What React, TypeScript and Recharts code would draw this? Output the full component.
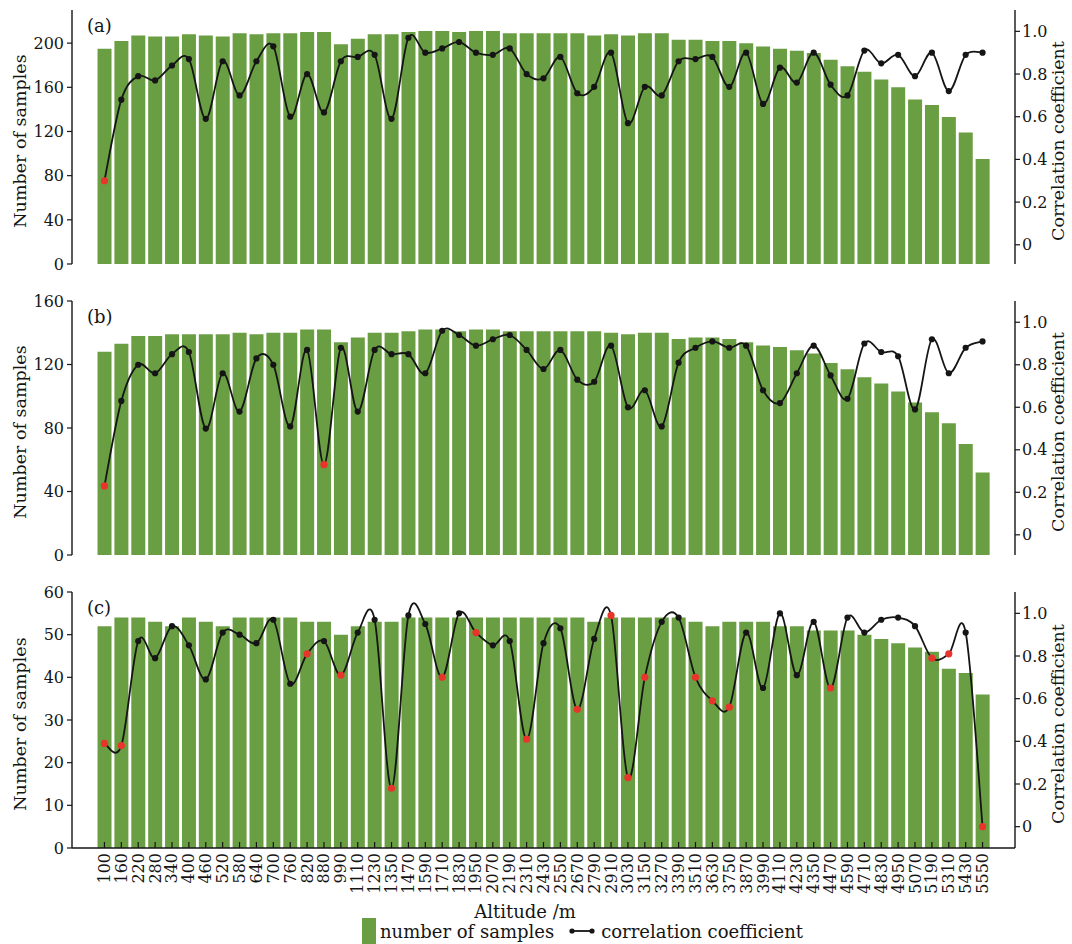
import { ComposedChart, Bar, Line, XAxis, YAxis, Legend } from "recharts";

const FONT = "'DejaVu Serif', 'Liberation Serif', serif";
const INK = "#151515";
const GREEN = "#6a9e43";
const RED = "#e8342b";

// altitude classes (m), one per bar
const altitudes = [
  "100", "160", "220", "280", "340", "400", "460", "520", "580", "640",
  "700", "760", "820", "880", "990", "1110", "1230", "1350", "1470", "1590",
  "1710", "1830", "1950", "2070", "2190", "2310", "2430", "2550", "2670", "2790",
  "2910", "3030", "3150", "3270", "3390", "3510", "3630", "3750", "3870", "3990",
  "4110", "4230", "4350", "4470", "4590", "4710", "4830", "4950", "5070", "5190",
  "5310", "5430", "5550",
];

// (a)
const samplesA = [
  195, 202, 207, 206, 206, 208, 207, 206, 209, 208,
  209, 209, 210, 210, 199, 204, 208, 208, 210, 211,
  211, 210, 211, 211, 209, 209, 209, 209, 209, 207,
  208, 207, 209, 209, 203, 203, 202, 202, 200, 197,
  195, 193, 191, 185, 179, 174, 167, 160, 149, 144,
  133, 119, 95,
];
const corrA = [
  0.3, 0.68, 0.79, 0.77, 0.84, 0.87, 0.59, 0.86, 0.7, 0.86,
  0.93, 0.6, 0.8, 0.62, 0.86, 0.88, 0.89, 0.59, 0.97, 0.9,
  0.92, 0.95, 0.9, 0.89, 0.92, 0.8, 0.78, 0.88, 0.71, 0.74,
  0.9, 0.57, 0.74, 0.7, 0.86, 0.87, 0.88, 0.74, 0.9, 0.66,
  0.83, 0.76, 0.9, 0.75, 0.7, 0.91, 0.85, 0.89, 0.79, 0.9,
  0.72, 0.89, 0.9,
];
const redA = [0];

// (b)
const samplesB = [
  128, 133, 138, 138, 139, 139, 139, 139, 140, 139,
  140, 140, 142, 142, 134, 137, 140, 140, 141, 142,
  142, 141, 142, 142, 141, 141, 141, 141, 141, 141,
  140, 139, 140, 140, 136, 137, 137, 136, 134, 132,
  131, 129, 127, 121, 117, 112, 108, 103, 96, 90,
  83, 70, 52,
];
const corrB = [
  0.23, 0.63, 0.8, 0.76, 0.85, 0.86, 0.5, 0.76, 0.58, 0.83,
  0.8, 0.51, 0.87, 0.33, 0.88, 0.58, 0.87, 0.85, 0.85, 0.76,
  0.96, 0.94, 0.89, 0.92, 0.94, 0.87, 0.78, 0.87, 0.73, 0.72,
  0.89, 0.6, 0.68, 0.51, 0.81, 0.88, 0.91, 0.88, 0.89, 0.68,
  0.62, 0.76, 0.89, 0.75, 0.64, 0.9, 0.86, 0.84, 0.59, 0.92,
  0.76, 0.88, 0.91,
];
const redB = [0, 13];

// (c)
const samplesC = [
  52, 54, 54, 53, 52, 54, 53, 52, 54, 54,
  54, 54, 53, 53, 50, 52, 53, 53, 54, 54,
  54, 54, 54, 54, 54, 54, 54, 54, 54, 53,
  54, 54, 54, 54, 54, 53, 52, 53, 53, 53,
  52, 52, 51, 51, 51, 50, 49, 48, 47, 46,
  42, 41, 36,
];
const corrC = [
  0.39, 0.38, 0.87, 0.79, 0.94, 0.85, 0.69, 0.91, 0.9, 0.86,
  0.97, 0.67, 0.81, 0.87, 0.71, 0.91, 0.97, 0.18, 0.99, 0.95,
  0.7, 1.0, 0.91, 0.85, 0.87, 0.41, 0.86, 0.93, 0.55, 0.88,
  0.99, 0.23, 0.7, 0.96, 0.98, 0.7, 0.59, 0.56, 0.91, 0.65,
  1.0, 0.71, 0.96, 0.65, 0.98, 0.91, 0.97, 0.98, 0.94, 0.79,
  0.81, 0.91, 0.0,
];
const redC = [0, 1, 12, 14, 17, 20, 22, 25, 28, 30, 31, 32, 35, 36, 37, 43, 49, 50, 52];

const rightTicks = [0, 0.2, 0.4, 0.6, 0.8, 1.0];

const axisStroke = { stroke: INK, strokeWidth: 1.4 };
const tickStroke = { stroke: INK, strokeWidth: 1.2 };
const tickFont = { fontFamily: FONT, fontSize: 16, fill: INK };

// Catmull-Rom style curve through every point (milder overshoot than "natural")
const smoothCurve = (context: any) => {
  let pts: number[][] = [];
  return {
    areaStart() {},
    areaEnd() {},
    lineStart() {
      pts = [];
    },
    point(x: number, y: number) {
      pts.push([+x, +y]);
    },
    lineEnd() {
      if (!pts.length) return;
      context.moveTo(pts[0][0], pts[0][1]);
      for (let i = 0; i < pts.length - 1; i++) {
        const p0 = pts[i - 1] || pts[i];
        const p1 = pts[i];
        const p2 = pts[i + 1];
        const p3 = pts[i + 2] || p2;
        context.bezierCurveTo(
          p1[0] + (p2[0] - p0[0]) / 6,
          p1[1] + (p2[1] - p0[1]) / 6,
          p2[0] - (p3[0] - p1[0]) / 6,
          p2[1] - (p3[1] - p1[1]) / 6,
          p2[0],
          p2[1]
        );
      }
    },
  };
};

const YTitle = (props: any) => {
  const { viewBox, text, at } = props;
  const cy = viewBox.y + viewBox.height / 2 + 4;
  return (
    <text
      x={at}
      y={cy}
      transform={`rotate(-90 ${at} ${cy})`}
      textAnchor="middle"
      dominantBaseline="central"
      fontFamily={FONT}
      fontSize={17.5}
      fill={INK}
    >
      {text}
    </text>
  );
};

const XTitle = (props: any) => {
  const { viewBox } = props;
  return (
    <text x={525} y={viewBox.y + 70} textAnchor="middle" fontFamily={FONT} fontSize={18} fill={INK}>
      Altitude /m
    </text>
  );
};

// rotated altitude labels with inward tick marks
const XTick = (props: any) => {
  const { x, y, payload } = props;
  const ly = y + 5;
  return (
    <g>
      <line x1={x} y1={y} x2={x} y2={y - 6} stroke={INK} strokeWidth={1.2} />
      <text
        x={x}
        y={ly}
        transform={`rotate(-90 ${x} ${ly})`}
        textAnchor="end"
        dominantBaseline="central"
        fontFamily={FONT}
        fontSize={16}
        fill={INK}
      >
        {payload.value}
      </text>
    </g>
  );
};

const renderDot = (p: any) => {
  if (p.cx == null || p.cy == null) return <g key={`d${p.index}`} />;
  const hot = p.payload.red;
  return (
    <circle key={`d${p.index}`} cx={p.cx} cy={p.cy} r={hot ? 3.6 : 3.1} fill={hot ? RED : INK} stroke="none" />
  );
};

const LegendBox = ({ payload }: any) => {
  const items = [...(payload || [])].sort((a: any, b: any) =>
    a.type === "rect" ? -1 : b.type === "rect" ? 1 : 0
  );
  return (
    <div
      style={{
        display: "flex",
        alignItems: "center",
        marginLeft: 362,
        height: 26,
        fontFamily: FONT,
        fontSize: 18,
        color: INK,
      }}
    >
      {items.map((e: any, i: number) =>
        e.type === "rect" ? (
          <div key={i} style={{ display: "flex", alignItems: "center" }}>
            <span style={{ display: "inline-block", width: 14, height: 26, background: GREEN }} />
            <span style={{ marginLeft: 4, whiteSpace: "nowrap" }}>{e.value}</span>
          </div>
        ) : (
          <div key={i} style={{ display: "flex", alignItems: "center", marginLeft: 15 }}>
            <svg width={26} height={10}>
              <line x1={3} y1={5} x2={23} y2={5} stroke={INK} strokeWidth={1.8} />
              <circle cx={3} cy={5} r={2.6} fill={INK} />
              <circle cx={23} cy={5} r={2.6} fill={INK} />
            </svg>
            <span style={{ marginLeft: 6, whiteSpace: "nowrap" }}>{e.value}</span>
          </div>
        )
      )}
    </div>
  );
};

function Panel(props: any) {
  const { tag, samples, corr, red, leftMax, leftTicks, rightDomain, top, withAxis } = props;
  const data = altitudes.map((alt, i) => ({
    alt,
    samples: samples[i],
    corr: corr[i],
    red: red.includes(i),
  }));
  const height = withAxis ? 362 : 280;
  return (
    <div style={{ position: "absolute", left: 0, top }}>
      <ComposedChart
        width={1072}
        height={height}
        data={data}
        margin={{ top: 10, right: 0, bottom: withAxis ? 36 : 16, left: 0 }}
        barCategoryGap="9%"
      >
        <XAxis
          xAxisId="frame"
          orientation="top"
          dataKey="alt"
          height={0}
          tick={false}
          tickLine={false}
          axisLine={axisStroke}
          padding={{ left: 24, right: 24 }}
        />
        {withAxis ? (
          <XAxis
            dataKey="alt"
            height={60}
            interval={0}
            tickSize={0}
            tickMargin={0}
            tickLine={false}
            tick={<XTick />}
            axisLine={axisStroke}
            padding={{ left: 24, right: 24 }}
            label={<XTitle />}
          />
        ) : (
          <XAxis
            dataKey="alt"
            height={0}
            tick={false}
            tickLine={false}
            axisLine={axisStroke}
            padding={{ left: 24, right: 24 }}
          />
        )}
        <YAxis
          yAxisId="left"
          width={72}
          domain={[0, leftMax]}
          ticks={leftTicks}
          interval={0}
          tickSize={5}
          tickMargin={3}
          tick={tickFont}
          tickLine={tickStroke}
          axisLine={axisStroke}
          label={<YTitle text="Number of samples" at={20} />}
        />
        <YAxis
          yAxisId="right"
          orientation="right"
          width={57}
          domain={rightDomain}
          ticks={rightTicks}
          interval={0}
          tickSize={5}
          tickMargin={2}
          tick={tickFont}
          tickLine={tickStroke}
          axisLine={axisStroke}
          tickFormatter={(v: number) => (v === 0 ? "0" : v.toFixed(1))}
          label={<YTitle text="Correlation coefficient" at={1058} />}
        />
        <Bar
          yAxisId="left"
          dataKey="samples"
          name="number of samples"
          fill={GREEN}
          isAnimationActive={false}
        />
        <Line
          yAxisId="right"
          type={smoothCurve as any}
          dataKey="corr"
          name="correlation coefficient"
          stroke={INK}
          strokeWidth={1.8}
          dot={renderDot}
          activeDot={false}
          isAnimationActive={false}
        />
        <text x={87} y={32} fontFamily={FONT} fontSize={18} fill={INK}>
          {tag}
        </text>
        {withAxis && (
          <Legend
            layout="horizontal"
            verticalAlign="middle"
            align="center"
            content={<LegendBox />}
            wrapperStyle={{ left: 0, top: 336, width: 1072, margin: 0 }}
          />
        )}
      </ComposedChart>
    </div>
  );
}

export default function App() {
  return (
    <div style={{ position: "absolute", left: 0, top: 0, width: 1072, height: 944, background: "#fff" }}>
      <Panel
        tag="(a)"
        samples={samplesA}
        corr={corrA}
        red={redA}
        leftMax={230}
        leftTicks={[0, 40, 80, 120, 160, 200]}
        rightDomain={[-0.09, 1.1]}
        top={0}
      />
      <Panel
        tag="(b)"
        samples={samplesB}
        corr={corrB}
        red={redB}
        leftMax={160}
        leftTicks={[0, 40, 80, 120, 160]}
        rightDomain={[-0.095, 1.1]}
        top={291}
      />
      <Panel
        tag="(c)"
        samples={samplesC}
        corr={corrC}
        red={redC}
        leftMax={60}
        leftTicks={[0, 10, 20, 30, 40, 50, 60]}
        rightDomain={[-0.1, 1.1]}
        top={582}
        withAxis
      />
    </div>
  );
}
